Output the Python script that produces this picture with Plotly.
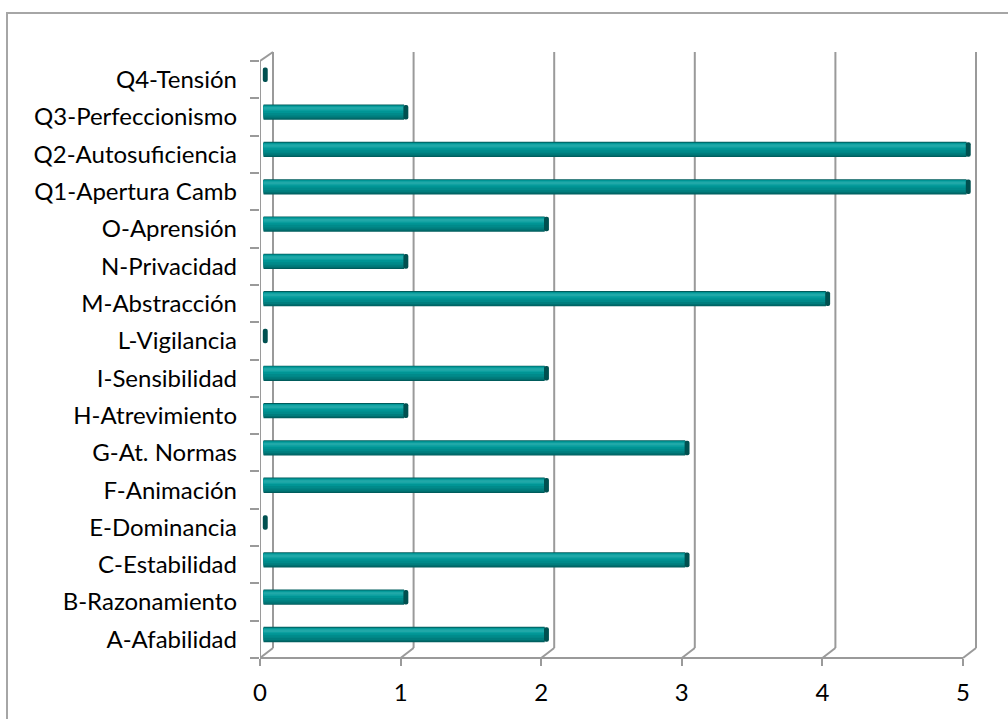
import plotly.graph_objects as go

categories = ["A-Afabilidad", "B-Razonamiento", "C-Estabilidad", "E-Dominancia",
              "F-Animación", "G-At. Normas", "H-Atrevimiento", "I-Sensibilidad",
              "L-Vigilancia", "M-Abstracción", "N-Privacidad", "O-Aprensión",
              "Q1-Apertura Camb", "Q2-Autosuficiencia", "Q3-Perfeccionismo", "Q4-Tensión"]
values = [2, 1, 3, 0, 2, 3, 1, 2, 0, 4, 1, 2, 5, 5, 1, 0]
x_ticks = [0, 1, 2, 3, 4, 5]

W, H = 1008, 719
ML, MR, MT, MB = 260, 20, 52, 61
PW, PH = W - ML - MR, H - MT - MB
UNIT = 140.6          # px per unit on x
BAND = 37.31          # px per category band
DX, DY = 13, 10       # 3D depth offset in px
GRID = "#9a9a9a"
FONT = "Lato"
FS = 24

x_max = PW / UNIT
y_top = 15.5 + (PH - 16 * BAND) / BAND

fig = go.Figure()

BASE = 0.025
layers = [  # (offset, width, color) along the category axis
    (-0.075, 0.41, "#005c5c"),
    (-0.05, 0.36, "#006e6e"),
    (-0.015, 0.32, "#007d7d"),
    (0.04, 0.27, "#008a8a"),
    (0.11, 0.195, "#009595"),
    (0.165, 0.12, "#0ca0a0"),
    (0.20, 0.065, "#20a8a8"),
]
for off, wd, col in layers:
    fig.add_trace(go.Bar(y=categories, x=values, base=BASE, orientation="h",
                         offset=off, width=wd, marker=dict(color=col, line=dict(width=0)),
                         hoverinfo="skip", showlegend=False))
# end caps
fig.add_trace(go.Bar(y=categories, x=[0.035] * len(values), base=[v + 0.02 for v in values],
                     orientation="h", offset=-0.065, width=0.39,
                     marker=dict(color="#005050", line=dict(width=0), cornerradius=3),
                     hoverinfo="skip", showlegend=False))

shapes = []
band_top = (16 * BAND) / PH      # paper y of the top of front category area
back_bot = DY / PH
# outer chart border
shapes.append(dict(type="rect", xref="paper", yref="paper",
                   x0=(7 - ML) / PW, x1=(W + 10 - ML) / PW,
                   y0=-(MB + 10) / PH, y1=(H - MB - 13) / PH,
                   line=dict(color="#a6a6a6", width=2), fillcolor="rgba(0,0,0,0)", layer="below"))
for t in x_ticks:
    # back gridline
    shapes.append(dict(type="line", xref="x", xsizemode="pixel", xanchor=t, x0=DX, x1=DX,
                       yref="paper", y0=back_bot, y1=1.0,
                       line=dict(color=GRID, width=2), layer="below"))
    # floor diagonal
    shapes.append(dict(type="line", xref="x", xsizemode="pixel", xanchor=t, x0=0, x1=DX,
                       yref="paper", y0=0, y1=back_bot,
                       line=dict(color=GRID, width=2), layer="below"))
# front floor axis line
shapes.append(dict(type="line", xref="x", x0=0, x1=x_ticks[-1], yref="paper", y0=0, y1=0,
                   line=dict(color=GRID, width=2), layer="below"))
# front left wall edge
shapes.append(dict(type="line", xref="x", xsizemode="pixel", xanchor=0, x0=0, x1=0,
                   yref="paper", y0=0, y1=band_top, line=dict(color=GRID, width=2), layer="below"))
# top diagonal of left wall
shapes.append(dict(type="line", xref="x", xsizemode="pixel", xanchor=0, x0=0, x1=DX,
                   yref="paper", y0=band_top, y1=1.0, line=dict(color=GRID, width=2), layer="below"))

fig.update_layout(
    width=W, height=H,
    margin=dict(l=ML, r=MR, t=MT, b=MB, pad=0),
    paper_bgcolor="white", plot_bgcolor="white",
    barmode="overlay",
    font=dict(family=FONT, size=FS, color="black"),
    shapes=shapes,
    xaxis=dict(range=[0, x_max], tickvals=x_ticks, ticktext=[str(t) for t in x_ticks],
               showgrid=False, zeroline=False, showline=False,
               ticks="outside", ticklen=7, tickwidth=2, tickcolor=GRID,
               ticklabelstandoff=6, tickfont=dict(family=FONT, size=FS, color="black")),
    yaxis=dict(type="category", categoryorder="array", categoryarray=categories,
               range=[-0.5, y_top], showgrid=False, zeroline=False, showline=False,
               ticks="outside", tickson="boundaries", ticklen=9, tickwidth=2, tickcolor=GRID,
               ticklabelstandoff=22, tickfont=dict(family=FONT, size=FS, color="black")),
)

fig.write_html("out.html")
